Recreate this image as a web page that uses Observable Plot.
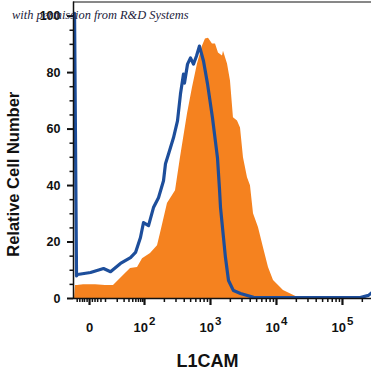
<!DOCTYPE html>
<html><head><meta charset="utf-8">
<script src="https://cdn.jsdelivr.net/npm/d3@7"></script>
<script src="https://cdn.jsdelivr.net/npm/@observablehq/plot@0.6"></script>
<style>
body{margin:0;background:#fff;}
#wrap{position:relative;width:371px;height:372px;overflow:hidden;}
#note{position:absolute;left:12px;top:8px;font-family:"Liberation Serif",serif;font-style:italic;font-size:12.4px;color:#1c1c3c;white-space:nowrap;z-index:2;}
</style></head><body>
<div id="wrap"><div id="note">with permission from R&amp;D Systems</div></div>
<script>
// x values are in display "decade" units of the biexponential axis (10^2 -> 2, 10^3 -> 3, 0 -> 1.167)
const blueX = [0.94, 0.97, 0.985, 1.182, 1.379, 1.485, 1.636, 1.788, 1.864, 1.939, 1.985, 2.061, 2.136, 2.212, 2.288, 2.318, 2.364, 2.439, 2.5, 2.545, 2.591, 2.606, 2.652, 2.697, 2.742, 2.788, 2.833, 2.894, 2.955, 3.03, 3.106, 3.136, 3.152, 3.227, 3.273, 3.348, 3.455, 3.652, 4.364, 5.27, 5.394, 5.44];
const blueY = [101, 8, 8.5, 9.2, 10.6, 9.5, 12.4, 14.5, 16.3, 21.6, 26.9, 25.8, 32.2, 35.7, 41.7, 47.7, 51.2, 56.9, 62.9, 72.4, 79.5, 76.3, 83.0, 85.2, 83.0, 85.9, 89.4, 84.1, 76.0, 64.0, 49.8, 38.9, 32.2, 14.5, 6.4, 2.8, 1.8, 0.4, 0.3, 0.3, 1.1, 2];
const orangeX = [0.94, 0.955, 0.985, 1.076, 1.258, 1.409, 1.53, 1.636, 1.788, 1.894, 1.97, 2.091, 2.197, 2.242, 2.348, 2.47, 2.545, 2.652, 2.727, 2.803, 2.879, 2.924, 2.97, 3.03, 3.076, 3.121, 3.182, 3.197, 3.258, 3.303, 3.348, 3.409, 3.455, 3.5, 3.561, 3.606, 3.652, 3.727, 3.803, 3.879, 3.955, 4.106, 4.318, 4.515];
const orangeY = [0, 4.6, 4.6, 4.9, 4.9, 4.6, 4.6, 7.1, 10.6, 11.0, 14.1, 15.9, 18.7, 23.0, 33.6, 38.2, 49.8, 65.4, 74.6, 83.0, 89.4, 91.9, 92.2, 90.1, 90.1, 86.9, 85.9, 87.6, 83.0, 77.0, 64.0, 62.9, 60.4, 49.8, 42.8, 39.9, 30.0, 25.1, 18.0, 11.0, 6.4, 2.8, 0.4, 0];
const xMajorTicks = [1.167, 2, 3, 4, 5];
const xTickLabels = ["0", "10²", "10³", "10⁴", "10⁵"];
const xNearZeroTicks = [0.98, 1.02, 1.06, 1.09, 1.13, 1.21, 1.25, 1.29, 1.34];
const yMajorTicks = [0, 20, 40, 60, 80, 100];
const yMinorTicks = [5, 10, 15, 25, 30, 35, 45, 50, 55, 65, 70, 75, 85, 90, 95];
const xLabel = "L1CAM";
const yLabel = "Relative Cell Number";

const decadeMinor = [];
for (const dec of [1, 2, 3, 4, 5]) {
  for (let k = 2; k <= 9; k++) {
    const v = dec === 1 ? 1.409 + Math.log10(k) * 0.591 : dec + Math.log10(k);
    if (v < 5.44) decadeMinor.push(v);
  }
}
const xMinorTicks = [...xNearZeroTicks, 1.409, ...decadeMinor];

const blue = blueX.map((x, i) => ({x, y: blueY[i]}));
const orange = orangeX.map((x, i) => ({x, y: orangeY[i]}));
const labelMap = new Map(xMajorTicks.map((t, i) => [t, xTickLabels[i]]));

const chart = Plot.plot({
  width: 371,
  height: 372,
  marginLeft: 73,
  marginRight: 0,
  marginTop: 1.5,
  marginBottom: 74,
  style: {fontFamily: "'Liberation Sans', Arial, sans-serif", fontWeight: "bold", fontSize: "12.5px", color: "#111"},
  x: {domain: [0.924, 5.44]},
  y: {domain: [0, 105]},
  marks: [
    Plot.areaY(orange, {x: "x", y: "y", fill: "#F5821F", clip: true}),
    Plot.line(blue, {x: "x", y: "y", stroke: "#1D4E9B", strokeWidth: 3.2, clip: true}),
    Plot.ruleY([0], {stroke: "#111", strokeWidth: 1.5}),
    Plot.ruleY([105], {stroke: "#111", strokeWidth: 1}),
    Plot.ruleX([0.924], {stroke: "#111", strokeWidth: 1.5}),
    Plot.axisY(yMajorTicks, {tickSize: 6, strokeWidth: 2, tickPadding: 7, label: null, fontSize: 12.5}),
    Plot.axisY(yMinorTicks, {tickSize: 3.5, strokeWidth: 1.5, fill: "none", label: null}),
    Plot.axisX(xMajorTicks, {tickSize: 7, strokeWidth: 2.2, tickPadding: 17, label: null, tickFormat: (d) => labelMap.get(d), fontSize: 13}),
    Plot.axisX(xMinorTicks, {tickSize: 4, strokeWidth: 1.5, fill: "none", label: null}),
    Plot.text([yLabel], {frameAnchor: "left", textAnchor: "middle", lineAnchor: "middle", rotate: -90, dx: -60, dy: 24, fontSize: 16.5, fontWeight: "bold"}),
    Plot.text([xLabel], {frameAnchor: "bottom", textAnchor: "middle", lineAnchor: "middle", dx: -15, dy: 63, fontSize: 18, fontWeight: "bold"})
  ]
});
// render superscript exponents as raised tspans
const supMap = {"²": "2", "³": "3", "⁴": "4", "⁵": "5"};
chart.querySelectorAll("text").forEach((el) => {
  const m = /^10([²³⁴⁵])$/.exec(el.textContent.trim());
  if (!m) return;
  const target = el.querySelector("tspan") || el;
  target.textContent = "";
  const ns = "http://www.w3.org/2000/svg";
  const base = document.createElementNS(ns, "tspan");
  base.textContent = "10";
  const sup = document.createElementNS(ns, "tspan");
  sup.textContent = supMap[m[1]];
  sup.setAttribute("dy", "-7");
  sup.setAttribute("dx", "1");
  sup.setAttribute("font-size", "11.5");
  target.appendChild(base);
  target.appendChild(sup);
});
document.getElementById("wrap").appendChild(chart);
</script>
</body></html>
